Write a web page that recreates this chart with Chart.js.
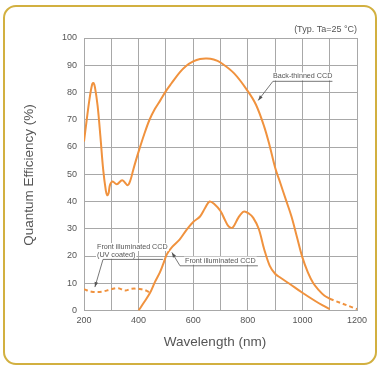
<!DOCTYPE html>
<html>
<head>
<meta charset="utf-8">
<script src="https://cdn.jsdelivr.net/npm/chart.js@4/dist/chart.umd.min.js"></script>
<style>
  html, body { margin: 0; padding: 0; background: #fff; }
  #wrap { position: relative; width: 380px; height: 367px; }
  #frame { position: absolute; left: 3px; top: 5px; width: 370px; height: 356px;
           border: 2px solid #d2b040; border-radius: 13px; }
  canvas { position: absolute; left: 0; top: 0; }
</style>
</head>
<body>
<div id="wrap">
  <div id="frame"></div>
  <canvas id="qe" width="380" height="367"></canvas>
</div>
<script>
const lineColor = "#f0923e";
const textColor = "#555555";
const gridColor = "#a8a8a8";
const fontFamily = "'Liberation Sans', Arial, sans-serif";

// Back-thinned CCD (solid part)
const backThinnedNm = [200, 210, 220, 230, 235, 240, 250, 260, 270, 280, 285, 290, 295, 305, 320, 340, 360, 370, 380, 390, 400, 420, 440, 460, 480, 500, 520, 550, 575, 600, 625, 650, 675, 700, 750, 800, 830, 860, 880, 900, 920, 940, 960, 980, 1000, 1020, 1040, 1060, 1080, 1100];
const backThinnedQe = [62, 70, 77.5, 83, 83.5, 82, 75, 64, 52, 44, 42.3, 43, 46, 47.3, 46.3, 47.8, 46, 47.8, 51.5, 55, 58.3, 64.5, 70, 74, 77.2, 80.5, 83.3, 87.3, 89.8, 91.4, 92.3, 92.5, 92.1, 91, 87, 80.5, 75.5, 67.5, 60.5, 52.5, 46.5, 40.5, 34.5, 27, 19.5, 14, 10, 7.5, 5.5, 4.3];
// Back-thinned CCD (dashed tail)
const backTailNm = [1100, 1200];
const backTailQe = [4.3, 0.5];

// Front illuminated CCD
const frontNm = [400, 420, 442, 460, 478, 490, 503, 520, 550, 575, 600, 625, 643, 660, 680, 700, 715, 730, 745, 765, 785, 805, 820, 840, 860, 880, 900, 920, 950, 1000, 1050, 1080, 1100];
const frontQe = [0, 3, 6.5, 10.5, 14, 17, 20.5, 23, 26, 29.5, 32.5, 34.5, 37.5, 40, 38.8, 36.5, 33.5, 30.8, 30.5, 34, 36.3, 35.5, 34, 30, 22.5, 16.5, 13.5, 12, 10, 6.5, 3.3, 1.6, 0.5];

// Front illuminated CCD (UV coated), dashed
const uvNm = [200, 228, 265, 300, 326, 350, 375, 410, 430, 442];
const uvQe = [7.8, 6.9, 6.9, 7.8, 8.2, 7.3, 8, 7.8, 7.2, 6.5];

const xTicks = [200, 400, 600, 800, 1000, 1200];

function toPoints(xs, ys) {
  return xs.map((x, i) => ({ x: x, y: ys[i] }));
}

function makeDataset(xs, ys, dashed) {
  return {
    data: toPoints(xs, ys),
    borderColor: lineColor,
    borderWidth: 2,
    borderDash: dashed ? [4, 3] : [],
    pointRadius: 0,
    fill: false,
    tension: 0.35,
  };
}

// labels with leader lines, anchored in data units
const callouts = [
  { lines: ["Back-thinned CCD"], textNm: 892, textQe: 85.9, lineQe: 84.1, tipNm: 838, tipQe: 77.1 },
  { lines: ["Front illuminated CCD", "(UV coated)"], textNm: 247.6, textQe: 23.3, lineQe: 18.75, lineStartNm: 269.6, lineEndNm: 489, tipNm: 240, tipQe: 8.6 },
  { lines: ["Front illuminated CCD"], textNm: 570, textQe: 18.3, lineQe: 16.4, lineStartNm: 551.6, lineEndNm: 837, tipNm: 522, tipQe: 21.3 },
];

const annotationPlugin = {
  id: "annotations",
  afterDatasetsDraw(chart) {
    const ctx = chart.ctx;
    const xs = chart.scales.x;
    const ys = chart.scales.y;
    ctx.save();

    callouts.forEach(c => {
      ctx.font = "7.2px " + fontFamily;
      ctx.textBaseline = "middle";
      ctx.textAlign = "left";
      const tx = xs.getPixelForValue(c.textNm);
      const ty = ys.getPixelForValue(c.textQe);
      let maxW = 0;
      c.lines.forEach((t, i) => {
        const w = ctx.measureText(t).width;
        maxW = Math.max(maxW, w);
        ctx.fillStyle = "#ffffff";
        ctx.fillRect(tx - 1, ty + i * 7.8 - 4, w + 2, 8);
        ctx.fillStyle = textColor;
        ctx.fillText(t, tx, ty + i * 7.8);
      });

      const ly = ys.getPixelForValue(c.lineQe);
      const lx0 = c.lineStartNm !== undefined ? xs.getPixelForValue(c.lineStartNm) : tx;
      const lx1 = c.lineEndNm !== undefined ? xs.getPixelForValue(c.lineEndNm) : tx + maxW;
      const tipX = xs.getPixelForValue(c.tipNm);
      const tipY = ys.getPixelForValue(c.tipQe);

      ctx.strokeStyle = textColor;
      ctx.lineWidth = 0.8;
      ctx.beginPath();
      ctx.moveTo(lx1, ly);
      ctx.lineTo(lx0, ly);
      ctx.lineTo(tipX, tipY);
      ctx.stroke();

      // arrow head
      const ang = Math.atan2(tipY - ly, tipX - lx0);
      const len = 5, half = 1.8;
      ctx.fillStyle = textColor;
      ctx.beginPath();
      ctx.moveTo(tipX, tipY);
      ctx.lineTo(tipX - len * Math.cos(ang) + half * Math.sin(ang), tipY - len * Math.sin(ang) - half * Math.cos(ang));
      ctx.lineTo(tipX - len * Math.cos(ang) - half * Math.sin(ang), tipY - len * Math.sin(ang) + half * Math.cos(ang));
      ctx.closePath();
      ctx.fill();
    });

    // condition note
    ctx.font = "9px " + fontFamily;
    ctx.fillStyle = textColor;
    ctx.textAlign = "right";
    ctx.textBaseline = "middle";
    ctx.fillText("(Typ. Ta=25 \u00B0C)", chart.chartArea.right, 30);

    // axis titles
    ctx.font = "13.5px " + fontFamily;
    ctx.textAlign = "center";
    ctx.fillText("Wavelength (nm)", 215, 342);
    ctx.translate(29, 175);
    ctx.rotate(-Math.PI / 2);
    ctx.fillText("Quantum Efficiency (%)", 0, 0);
    ctx.restore();
  }
};

new Chart(document.getElementById("qe").getContext("2d"), {
  type: "line",
  data: {
    datasets: [
      makeDataset(backThinnedNm, backThinnedQe, false),
      makeDataset(backTailNm, backTailQe, true),
      makeDataset(frontNm, frontQe, false),
      makeDataset(uvNm, uvQe, true),
    ],
  },
  options: {
    responsive: false,
    animation: false,
    events: [],
    layout: { padding: { top: 38, right: 23, bottom: 0, left: 0 } },
    plugins: { legend: { display: false }, tooltip: { enabled: false } },
    scales: {
      x: {
        type: "linear",
        min: 200,
        max: 1200,
        afterFit: s => { s.height = 56.5; },
        grid: { color: gridColor, lineWidth: 1, drawTicks: false },
        border: { color: gridColor },
        ticks: {
          stepSize: 100,
          padding: 5,
          color: textColor,
          font: { size: 9, family: fontFamily },
          maxRotation: 0,
          autoSkip: false,
          callback: v => xTicks.includes(v) ? String(v) : "",
        },
      },
      y: {
        min: 0,
        max: 100,
        afterFit: s => { s.width = 84; },
        grid: { color: gridColor, lineWidth: 1, drawTicks: false },
        border: { color: gridColor },
        ticks: {
          stepSize: 10,
          padding: 7,
          color: textColor,
          font: { size: 9, family: fontFamily },
        },
      },
    },
  },
  plugins: [annotationPlugin],
});
</script>
</body>
</html>
